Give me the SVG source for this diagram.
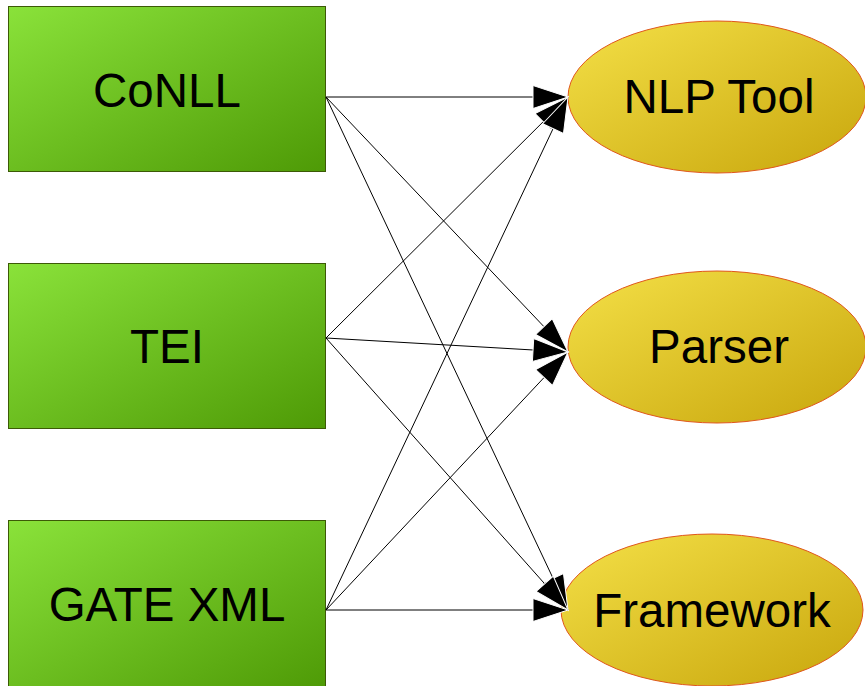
<svg xmlns="http://www.w3.org/2000/svg" width="865" height="686" viewBox="0 0 865 686">
<style>
.box{fill:url(#green);stroke:#3c5a06;stroke-width:1}
.ell{fill:url(#yellow);stroke:#e0561c;stroke-width:1}
.lbl{font-family:"Liberation Sans",Arial,sans-serif;font-size:47.5px;fill:#000;text-anchor:middle}
.edge{stroke:#000;stroke-width:1;fill:none;marker-end:url(#arr)}
</style>
<defs>
<linearGradient id="green" x1="0" y1="0" x2="1" y2="1">
<stop offset="0" stop-color="#8ae23a"/>
<stop offset="1" stop-color="#4e9a06"/>
</linearGradient>
<linearGradient id="yellow" x1="0" y1="0" x2="1" y2="1">
<stop offset="0" stop-color="#f4e047"/>
<stop offset="1" stop-color="#c8a60c"/>
</linearGradient>
<marker id="arr" markerUnits="userSpaceOnUse" markerWidth="38" markerHeight="26" viewBox="0 0 38 26" refX="36" refY="13" orient="auto">
<path d="M1,1.5 L36,13 L1,24.5 Z" fill="#000" stroke="#fff" stroke-width="1"/>
</marker>
</defs>
<g id="conll"><rect class="box" x="8.5" y="6.5" width="317" height="165"/><text class="lbl" x="167" y="107">CoNLL</text></g>
<g id="tei"><rect class="box" x="8.5" y="263.5" width="317" height="165"/><text class="lbl" x="167" y="363">TEI</text></g>
<g id="gatexml"><rect class="box" x="8.5" y="520.5" width="317" height="170"/><text class="lbl" x="167" y="621">GATE XML</text></g>
<g id="nlptool"><ellipse class="ell" cx="717" cy="97" rx="149" ry="76"/><text class="lbl" x="719" y="113">NLP Tool</text></g>
<g id="parser"><ellipse class="ell" cx="717" cy="347" rx="149" ry="76"/><text class="lbl" x="719" y="363">Parser</text></g>
<g id="framework"><ellipse class="ell" cx="712" cy="610" rx="151" ry="76"/><text class="lbl" x="712" y="627">Framework</text></g>
<g id="connectors">
<line class="edge" x1="326" y1="97" x2="568" y2="97"/>
<line class="edge" x1="326" y1="97" x2="568" y2="352"/>
<line class="edge" x1="326" y1="97" x2="568" y2="610"/>
<line class="edge" x1="326" y1="338" x2="568" y2="97"/>
<line class="edge" x1="326" y1="338" x2="568" y2="352"/>
<line class="edge" x1="326" y1="338" x2="568" y2="610"/>
<line class="edge" x1="326" y1="610" x2="568" y2="97"/>
<line class="edge" x1="326" y1="610" x2="568" y2="352"/>
<line class="edge" x1="326" y1="610" x2="568" y2="610"/>
</g>
</svg>
